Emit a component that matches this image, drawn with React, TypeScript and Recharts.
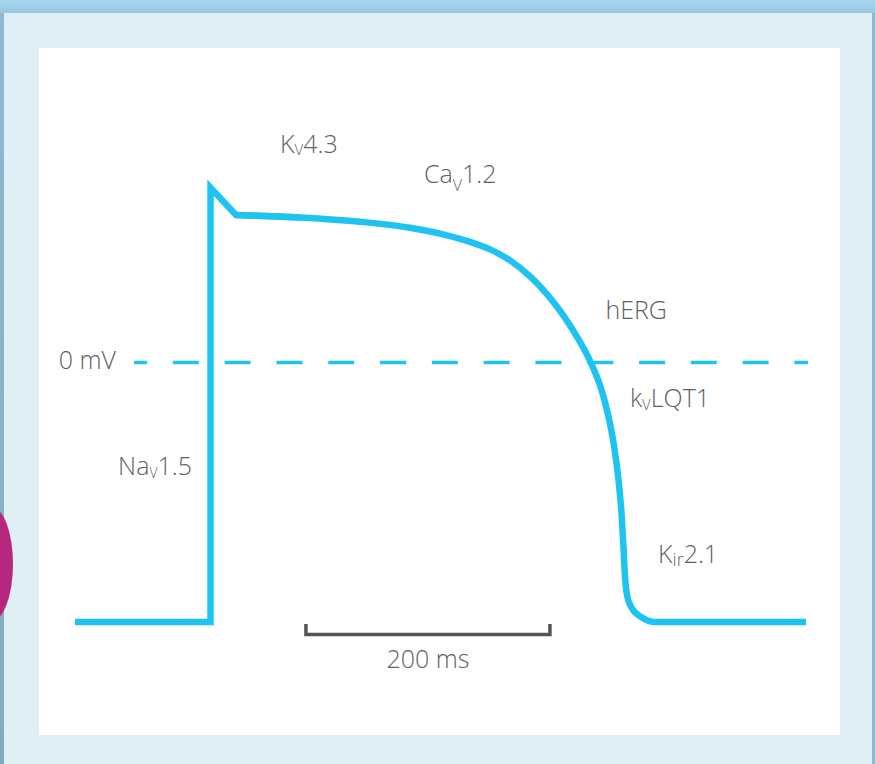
import React from 'react';
import { LineChart, Line, XAxis, YAxis, ReferenceLine, ReferenceDot } from 'recharts';

// Time in ms, membrane potential in mV
const UPSTROKE = [
  { t: 0, v: -90 },
  { t: 111.1, v: -90 },
  { t: 111.1, v: 60.6 },
  { t: 132.0, v: 51.16 },
  { t: 184.4, v: 50.25 },
];

const REPOLARIZATION = [
  { t: 132.0, v: 51.16 },
  { t: 184.4, v: 50.25 },
  { t: 233.6, v: 48.8 },
  { t: 274.6, v: 46.72 },
  { t: 303.3, v: 44.29 },
  { t: 323.8, v: 41.86 },
  { t: 340.2, v: 39.23 },
  { t: 356.6, v: 35.41 },
  { t: 373.0, v: 29.86 },
  { t: 387.7, v: 23.31 },
  { t: 400.0, v: 16.54 },
  { t: 411.5, v: 8.91 },
  { t: 422.95, v: -0.17 },
  { t: 431.07, v: -8.84 },
  { t: 436.64, v: -17.51 },
  { t: 441.97, v: -29.31 },
  { t: 445.49, v: -40.75 },
  { t: 447.95, v: -52.2 },
  { t: 449.59, v: -63.99 },
  { t: 450.74, v: -73.7 },
  { t: 452.46, v: -80.64 },
  { t: 456.31, v: -85.14 },
  { t: 464.75, v: -88.44 },
  { t: 475.41, v: -90 },
  { t: 599.18, v: -90 },
];

const SCALE_BAR = [
  { t: 189.3, v: -90.7 },
  { t: 189.3, v: -94.3 },
  { t: 389.3, v: -94.3 },
  { t: 389.3, v: -90.7 },
];

const ZERO_LINE = [
  { x: 48.4, y: 0 },
  { x: 600.8, y: 0 },
];

const LABELS = [
  { main: 'K', sub: 'V', tail: '4.3', t: 168.0, v: 72.66, anchor: 'start', subSize: 15, subShift: 2 },
  { main: 'Ca', sub: 'V', tail: '1.2', t: 286.1, v: 62.15, anchor: 'start', subSize: 16, subShift: 8 },
  { main: 'Na', sub: 'V', tail: '1.5', t: 95.9, v: -39.02, anchor: 'end', subSize: 14, subShift: 3 },
  { main: 'hERG', sub: '', tail: '', t: 434.8, v: 14.98, anchor: 'start', subSize: 14, subShift: 0 },
  { main: 'k', sub: 'V', tail: 'LQT1', t: 454.9, v: -15.43, anchor: 'start', subSize: 15, subShift: 3 },
  { main: 'K', sub: 'ir', tail: '2.1', t: 477.9, v: -69.6, anchor: 'start', subSize: 18, subShift: 3 },
  { main: '0 mV', sub: '', tail: '', t: 33.6, v: -2.25, anchor: 'end', subSize: 14, subShift: 0 },
  { main: '200 ms', sub: '', tail: '', t: 289.3, v: -105.95, anchor: 'middle', subSize: 14, subShift: 0 },
];

const X_DOMAIN = [-61.475, 655.738];
const Y_DOMAIN = [-139.25, 125.72];

const TRACE = '#1fc3f2';
const TEXT = '#5f5f5f';
const FONT = '"Open Sans", "DejaVu Sans", sans-serif';

const makeLabel = (l: any) => (props: any) => {
  const vb = props.viewBox || { x: 0, y: 0, width: 0, height: 0 };
  const x = vb.x + (vb.width || 0) / 2;
  const y = vb.y + (vb.height || 0) / 2;
  return (
    <text x={x} y={y} textAnchor={l.anchor} fontFamily={FONT} fontWeight={300} fontSize={25} fill={TEXT}>
      <tspan>{l.main}</tspan>
      {l.sub ? (
        <tspan fontSize={l.subSize} dy={l.subShift}>
          {l.sub}
        </tspan>
      ) : null}
      {l.tail ? <tspan dy={l.sub ? -l.subShift : 0}>{l.tail}</tspan> : null}
    </text>
  );
};

export default function App() {
  return (
    <div
      style={{
        position: 'absolute',
        left: 0,
        top: 0,
        width: 875,
        height: 764,
        background: '#e0eef6',
        overflow: 'hidden',
      }}
    >
      <div
        style={{
          position: 'absolute',
          left: 0,
          top: 0,
          width: 875,
          height: 13,
          background: 'linear-gradient(#a8d7ee, #96c7df)',
        }}
      />
      <div
        style={{
          position: 'absolute',
          left: 0,
          top: 13,
          width: 4,
          height: 751,
          background: 'linear-gradient(#8fbad0, #86aabd)',
        }}
      />
      <div
        style={{
          position: 'absolute',
          left: 872,
          top: 13,
          width: 3,
          height: 751,
          background: '#8fb9ce',
        }}
      />
      <div
        style={{
          position: 'absolute',
          left: -30,
          top: 507,
          width: 43,
          height: 114,
          borderRadius: '50%',
          background: '#b8277e',
        }}
      />
      <div
        style={{
          position: 'absolute',
          left: 39,
          top: 48,
          width: 801,
          height: 687,
          background: '#ffffff',
        }}
      />
      <div style={{ position: 'absolute', left: 0, top: 0 }}>
        <LineChart width={875} height={764} margin={{ top: 0, right: 0, bottom: 0, left: 0 }}>
          <XAxis type="number" dataKey="t" domain={X_DOMAIN} allowDataOverflow hide />
          <YAxis type="number" dataKey="v" domain={Y_DOMAIN} allowDataOverflow hide />
          <ReferenceLine
            segment={ZERO_LINE}
            stroke={TRACE}
            strokeWidth={3.5}
            strokeDasharray="26 25.8"
            strokeDashoffset={13}
          />
          <Line
            data={SCALE_BAR}
            dataKey="v"
            type="linear"
            stroke="#555555"
            strokeWidth={3.5}
            strokeLinejoin="miter"
            strokeLinecap="butt"
            dot={false}
            activeDot={false}
            isAnimationActive={false}
          />
          <Line
            data={REPOLARIZATION}
            dataKey="v"
            type="monotoneX"
            stroke={TRACE}
            strokeWidth={6.5}
            strokeLinecap="butt"
            dot={false}
            activeDot={false}
            isAnimationActive={false}
          />
          <Line
            data={UPSTROKE}
            dataKey="v"
            type="linear"
            stroke={TRACE}
            strokeWidth={6.5}
            strokeLinejoin="miter"
            strokeLinecap="butt"
            dot={false}
            activeDot={false}
            isAnimationActive={false}
          />
          {LABELS.map((l, i) => (
            <ReferenceDot
              key={i}
              x={l.t}
              y={l.v}
              r={0}
              fill="none"
              stroke="none"
              label={{ content: makeLabel(l) }}
            />
          ))}
        </LineChart>
      </div>
    </div>
  );
}
